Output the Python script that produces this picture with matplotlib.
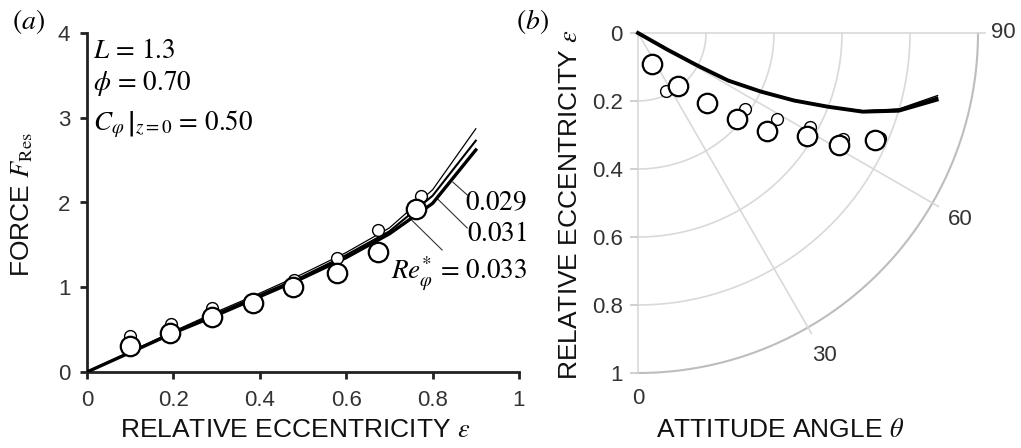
import numpy as np
import matplotlib
matplotlib.use("Agg")
import matplotlib.pyplot as plt

plt.rcParams["font.family"] = ["Liberation Sans", "DejaVu Sans"]
plt.rcParams["mathtext.fontset"] = "stix"

# ---- data: (a) force vs eccentricity ----
eps_line = [0.0, 0.1, 0.2, 0.3, 0.4, 0.5, 0.6, 0.7, 0.8, 0.9]
F_029 = [0.0, 0.24, 0.48, 0.71, 0.93, 1.16, 1.41, 1.70, 2.15, 2.87]
F_031 = [0.0, 0.235, 0.47, 0.69, 0.91, 1.13, 1.38, 1.66, 2.08, 2.73]
F_033 = [0.0, 0.23, 0.46, 0.67, 0.89, 1.11, 1.35, 1.63, 1.99, 2.62]

eps_small = [0.1, 0.195, 0.29, 0.385, 0.48, 0.578, 0.673, 0.773]
F_small = [0.43, 0.57, 0.75, 0.85, 1.08, 1.35, 1.67, 2.08]
eps_large = [0.1, 0.192, 0.289, 0.385, 0.478, 0.578, 0.673, 0.762]
F_large = [0.31, 0.46, 0.645, 0.81, 1.0, 1.165, 1.42, 1.92]

# ---- data: (b) locus, attitude angle (deg) vs eccentricity ----
th_033 = [60.0, 60.5, 61.3, 62.2, 64.5, 66.6, 68.8, 70.7, 73.4, 77.4]
th_031 = [60.0, 60.5, 61.3, 62.2, 64.5, 66.6, 68.8, 70.8, 73.6, 77.8]
th_029 = [60.0, 60.5, 61.3, 62.2, 64.5, 66.6, 68.8, 70.9, 73.8, 78.2]

th_large = [23.6, 37.4, 44.6, 49.1, 52.7, 58.6, 60.9, 65.7]
ep_large = [0.10, 0.195, 0.29, 0.386, 0.476, 0.581, 0.678, 0.765]
th_small = [20.0, 25.3, 43.0, 54.5, 58.1, 61.4, 62.8, 66.5]
ep_small = [0.10, 0.19, 0.285, 0.386, 0.48, 0.576, 0.679, 0.776]

x_ticks = [0, 0.2, 0.4, 0.6, 0.8, 1.0]
x_ticklabels = ["0", "0.2", "0.4", "0.6", "0.8", "1"]
y_ticks = [0, 1, 2, 3, 4]
r_ticks = [0, 0.2, 0.4, 0.6, 0.8, 1.0]
r_ticklabels = ["0", "0.2", "0.4", "0.6", "0.8", "1"]
th_ticks = [0, 30, 60, 90]

W, H = 1021, 448
fig = plt.figure(figsize=(W / 100, H / 100), dpi=100)

tick_col = "#333333"
lab_size = 19
tick_size = 16
math_size = 19.5

# ================= panel (a) =================
ax = fig.add_axes([87 / W, 1 - 372 / H, 432 / W, 339 / H])
ax.plot(eps_line, F_029, color="black", lw=0.9, zorder=3)
ax.plot(eps_line, F_031, color="black", lw=1.5, zorder=3)
ax.plot(eps_line, F_033, color="black", lw=2.4, zorder=3)
ax.plot(eps_small, F_small, "o", ms=8.5, mfc="white", mec="black", mew=1.0, zorder=4)
ax.plot(eps_large, F_large, "o", ms=14, mfc="white", mec="black", mew=1.6, zorder=5)

ax.set_xlim(0, 1)
ax.set_ylim(0, 4)
ax.set_xticks(x_ticks)
ax.set_xticklabels(x_ticklabels)
ax.set_yticks(y_ticks)
for s in ["top", "right"]:
    ax.spines[s].set_visible(False)
for s in ["left", "bottom"]:
    ax.spines[s].set_linewidth(2.0)
    ax.spines[s].set_color("#222222")
ax.tick_params(direction="out", length=5, width=2.0, color="#222222",
               labelsize=tick_size, labelcolor=tick_col)
ax.tick_params(axis="x", pad=8)
ax.tick_params(axis="y", pad=7)

# parameters
ax.text(0.014, 3.705, r"$L\,=\,1.3$", fontsize=math_size, va="baseline")
ax.text(0.014, 3.327, r"$\phi\,=\,0.70$", fontsize=math_size, va="baseline")
ax.text(0.014, 2.855, r"$\left.C_{\varphi}\,\right|_{z=0}\,=\,0.50$",
        fontsize=math_size, va="baseline")

# curve labels with leader lines
ax.plot([0.847, 0.880], [2.24, 2.09], color="#333333", lw=0.8, zorder=2)
ax.plot([0.810, 0.880], [2.05, 1.70], color="#333333", lw=0.8, zorder=2)
ax.plot([0.752, 0.822], [1.79, 1.44], color="#333333", lw=0.8, zorder=2)
ax.text(1.019, 1.91, r"$0.029$", fontsize=math_size, ha="right", va="baseline")
ax.text(1.019, 1.54, r"$0.031$", fontsize=math_size, ha="right", va="baseline")
ax.text(1.019, 1.105, r"$Re_{\varphi}^{*}\,=\,0.033$", fontsize=math_size,
        ha="right", va="baseline")

fig.text(295 / W, 1 - 430 / H, r"RELATIVE ECCENTRICITY $\varepsilon$",
         fontsize=lab_size, ha="center", va="center", color="#111111")
fig.text(22 / W, 1 - 205 / H, r"FORCE $F_{\mathrm{Res}}$", rotation=90,
         fontsize=lab_size, ha="center", va="center", color="#111111")
fig.text(29 / W, 1 - 22 / H, r"$(a)$", fontsize=20, ha="center", va="center")

# ================= panel (b) =================
bx = fig.add_axes([638 / W, 1 - 373 / H, 340 / W, 340 / H])
bx.set_xlim(0, 1)
bx.set_ylim(1, 0)
for s in bx.spines.values():
    s.set_visible(False)


def to_xy(theta_deg, r):
    t = np.radians(np.asarray(theta_deg, dtype=float))
    r = np.asarray(r, dtype=float)
    return r * np.sin(t), r * np.cos(t)


grid_c = "#d9d9d9"
tt = np.linspace(0, 90, 200)
for r in r_ticks[1:]:
    gx, gy = to_xy(tt, np.full_like(tt, r))
    bx.plot(gx, gy, color="#bdbdbd" if r == 1.0 else grid_c,
            lw=1.5 if r == 1.0 else 1.2, zorder=1, clip_on=False)
for t in th_ticks:
    rr_end = 1.0 if t == 0 else 1.02
    gx, gy = to_xy([t, t], [0, rr_end])
    bx.plot(gx, gy, color=grid_c, lw=1.2, zorder=1, clip_on=False)
for t in th_ticks:
    lx, ly = to_xy(t, 1.075 if t in (0, 90) else 1.095)
    bx.text(lx, ly, str(t), fontsize=tick_size, color=tick_col,
            ha="center", va="center")

bx.set_yticks(r_ticks)
bx.set_yticklabels(r_ticklabels)
bx.set_xticks([])
bx.tick_params(axis="y", direction="out", length=6, width=1.2, color="#c8c8c8",
               labelsize=tick_size, labelcolor=tick_col, pad=5)

for th, lw in [(th_029, 1.0), (th_031, 1.6), (th_033, 2.8)]:
    lx, ly = to_xy(th, eps_line)
    bx.plot(lx, ly, color="black", lw=lw, zorder=3, clip_on=False)

sx, sy = to_xy(th_small, ep_small)
bx.plot(sx, sy, "o", ms=8.5, mfc="white", mec="black", mew=1.0, zorder=4)
lx, ly = to_xy(th_large, ep_large)
bx.plot(lx, ly, "o", ms=14, mfc="white", mec="black", mew=1.6, zorder=5)

fig.text(780 / W, 1 - 430 / H, r"ATTITUDE ANGLE $\theta$",
         fontsize=lab_size, ha="center", va="center", color="#111111")
fig.text(570 / W, 1 - 205 / H, r"RELATIVE ECCENTRICITY $\varepsilon$", rotation=90,
         fontsize=lab_size, ha="center", va="center", color="#111111")
fig.text(532 / W, 1 - 22 / H, r"$(b)$", fontsize=20, ha="center", va="center")

fig.savefig("out.png", dpi=100)
